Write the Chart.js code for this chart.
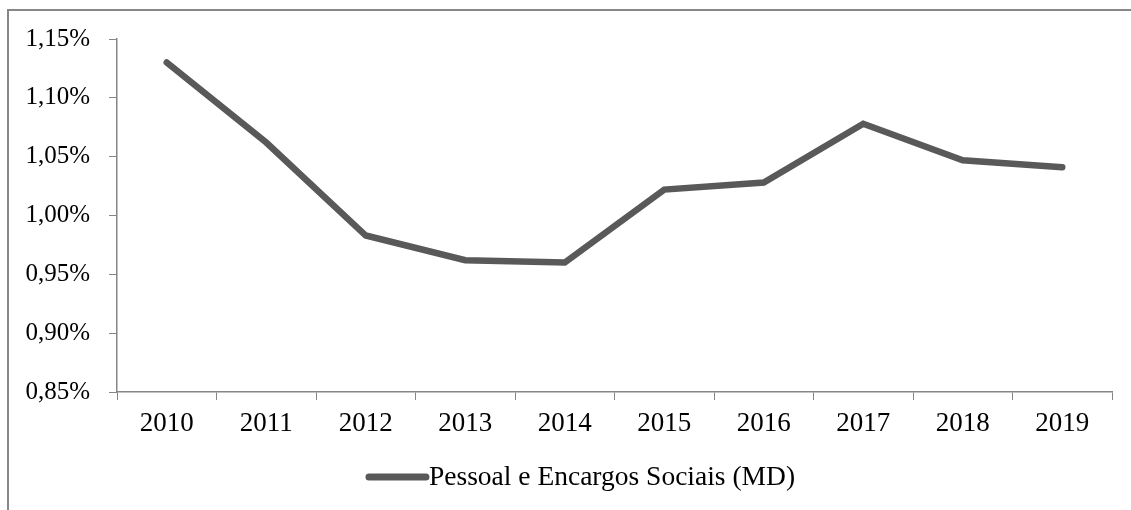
<!doctype html>
<html lang="pt">

<head>
    <meta charset="utf-8">
    <title>Pessoal e Encargos Sociais (MD)</title>
    <style>
        * {
            margin: 0;
            padding: 0;
        }

        body {
            background: #fff;
            width: 1131px;
            height: 510px;
            overflow: hidden;
            position: relative;
        }

        /* moldura do gráfico (sem borda direita/inferior visível) */
        .frame {
            position: absolute;
            left: 7px;
            top: 9px;
            width: 1200px;
            height: 600px;
            border-left: 2px solid #878787;
            border-top: 2px solid #878787;
        }

        .chartBox {
            position: absolute;
            left: 0;
            top: 0;
            width: 1131px;
            height: 510px;
        }
    </style>
</head>

<body>
    <div class="frame"></div>
    <div class="chartBox">
        <canvas id="myChart" width="1131" height="510"></canvas>
    </div>
    <script src="https://cdn.jsdelivr.net/npm/chart.js/dist/chart.umd.min.js"></script>
    <script>
        // dados (%)
        const anos = ['2010', '2011', '2012', '2013', '2014', '2015', '2016', '2017', '2018', '2019'];
        const pessoalMD = [1.130, 1.062, 0.983, 0.962, 0.960, 1.022, 1.028, 1.078, 1.047, 1.041];
        const serieNome = 'Pessoal e Encargos Sociais (MD)';
        const yMin = 0.85;
        const yMax = 1.15;
        const yPasso = 0.05;

        const fonte = '"Liberation Serif", "Times New Roman", serif';
        const corEixo = '#868686';
        const corLinha = '#595959';

        // legenda desenhada à mão: traço curto + texto logo ao lado
        const legendaPlugin = {
            id: 'legendaLinha',
            afterDraw(chart) {
                const ds = chart.data.datasets[0];
                const ctx = chart.ctx;
                const traco = 57;
                const folga = 3;
                const centroX = 582;
                const y = 477;
                ctx.save();
                ctx.font = '27.5px ' + fonte;
                const largTexto = ctx.measureText(ds.label).width;
                const x0 = centroX - (traco + folga + largTexto) / 2;
                ctx.strokeStyle = ds.borderColor;
                ctx.lineWidth = 7;
                ctx.lineCap = 'round';
                ctx.beginPath();
                ctx.moveTo(x0, y);
                ctx.lineTo(x0 + traco, y);
                ctx.stroke();
                ctx.fillStyle = '#000';
                ctx.textBaseline = 'middle';
                ctx.fillText(ds.label, x0 + traco + folga, y + 1);
                ctx.restore();
            }
        };

        const config = {
            type: 'line',
            data: {
                labels: anos,
                datasets: [{
                    label: serieNome,
                    data: pessoalMD,
                    borderColor: corLinha,
                    backgroundColor: corLinha,
                    borderWidth: 6.5,
                    borderCapStyle: 'round',
                    borderJoinStyle: 'miter',
                    pointRadius: 0,
                    pointHoverRadius: 0,
                    tension: 0,
                    fill: false
                }]
            },
            options: {
                responsive: false,
                animation: false,
                events: [],
                layout: {
                    padding: { left: 0, right: 19, top: 39, bottom: 58 }
                },
                plugins: {
                    tooltip: { enabled: false },
                    legend: { display: false }
                },
                scales: {
                    x: {
                        offset: true,
                        grid: {
                            offset: true,
                            drawOnChartArea: false,
                            drawTicks: true,
                            tickLength: 8,
                            color: corEixo
                        },
                        border: { color: corEixo, width: 1.5 },
                        ticks: {
                            color: '#000',
                            padding: 8,
                            maxRotation: 0,
                            font: { family: fonte, size: 27 }
                        },
                        afterFit: (scale) => { scale.height = 60; }
                    },
                    y: {
                        min: yMin,
                        max: yMax,
                        grid: {
                            drawOnChartArea: false,
                            drawTicks: true,
                            tickLength: 8,
                            color: corEixo
                        },
                        border: { color: corEixo, width: 1.5 },
                        ticks: {
                            stepSize: yPasso,
                            color: '#000',
                            padding: 19,
                            font: { family: fonte, size: 25 },
                            callback: (v) => v.toFixed(2).replace('.', ',') + '%'
                        },
                        afterFit: (scale) => { scale.width = 117; }
                    }
                }
            },
            plugins: [legendaPlugin]
        };

        const myChart = new Chart(document.getElementById('myChart'), config);
    </script>
</body>

</html>
